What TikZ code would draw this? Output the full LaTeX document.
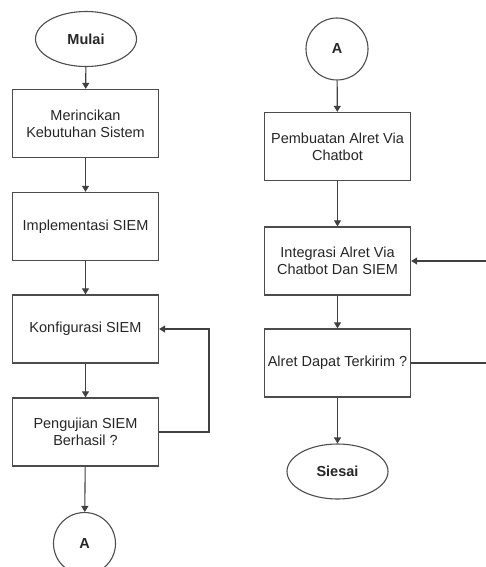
\documentclass[tikz,border=0pt]{standalone}
\usepackage{fontspec}
\setmainfont{Liberation Sans}
\usetikzlibrary{shapes.geometric,arrows.meta}
\begin{document}
\begin{tikzpicture}[x=1pt,y=-1pt,
  every node/.style={font=\fontsize{14.5}{17}\selectfont, text=black!85},
  procbox/.style={draw=black!70, line width=1.3pt, minimum width=146pt, minimum height=68pt, align=center, inner sep=2pt},
  term/.style={ellipse, draw=black!70, line width=1.1pt, minimum width=101pt, minimum height=55pt, font=\fontsize{14.5}{17}\selectfont\bfseries},
  conn/.style={circle, draw=black!70, line width=1.1pt, minimum size=62pt, inner sep=0pt, font=\fontsize{14.5}{17}\selectfont\bfseries},
  flow/.style={draw=black!75, line width=1.1pt, -{Triangle[length=6pt,width=7pt]}}
]
\useasboundingbox (0,0) rectangle (485,567);
% left column
\node[term] (mulai) at (86,39) {Mulai};
\node[procbox] (b1) at (85.5,123.5) {Merincikan\\Kebutuhan Sistem};
\node[procbox] (b2) at (85.5,226.5) {Implementasi SIEM};
\node[procbox] (b3) at (85.5,329) {Konfigurasi SIEM};
\node[procbox] (b4) at (85.5,432) {Pengujian SIEM\\Berhasil ?};
\node[conn] (a1) at (84.5,543.5) {A};
% right column
\node[conn] (a2) at (337,49) {A};
\node[procbox] (b5) at (337.5,146.5) {Pembuatan Alret Via\\Chatbot};
\node[procbox] (b6) at (337.5,261) {Integrasi Alret Via\\Chatbot Dan SIEM};
\node[procbox] (b7) at (337.5,363) {Alret Dapat Terkirim ?};
\node[term] (selesai) at (337.5,471.5) {Siesai};
\coordinate (e6) at (486,261);
\coordinate (e7) at (486,363);
% connectors
\draw[flow] (mulai) -- (b1);
\draw[flow] (b1) -- (b2);
\draw[flow] (b2) -- (b3);
\draw[flow] (b3) -- (b4);
\draw[flow] (b4) -- (a1);
\draw[flow] (b4.east) -- (209,432) -- (209,329) -- (b3.east);
\draw[flow] (a2) -- (b5);
\draw[flow] (b5) -- (b6);
\draw[flow] (b6) -- (b7);
\draw[flow] (b7) -- (selesai);
\draw[flow] (e6) -- (b6.east);
\draw[draw=black!75, line width=1.1pt] (b7.east) -- (e7);
\end{tikzpicture}
\end{document}
